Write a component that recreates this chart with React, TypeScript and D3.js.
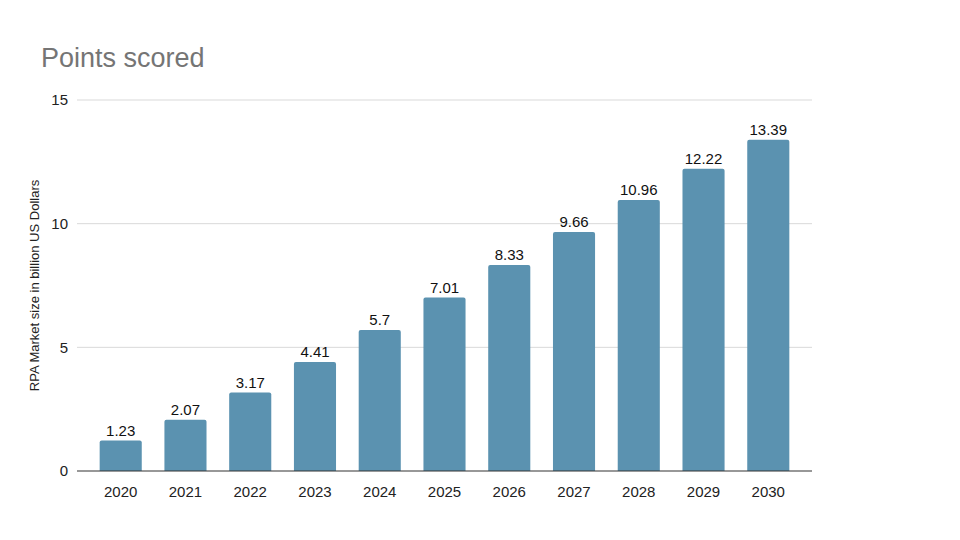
import React from "react";
import * as d3 from "d3";

const years = ["2020","2021","2022","2023","2024","2025","2026","2027","2028","2029","2030"];
const values = [1.23, 2.07, 3.17, 4.41, 5.7, 7.01, 8.33, 9.66, 10.96, 12.22, 13.39];
const valueLabels = ["1.23","2.07","3.17","4.41","5.7","7.01","8.33","9.66","10.96","12.22","13.39"];
const yTicks = [0, 5, 10, 15];
const title = "Points scored";
const yTitle = "RPA Market size in billion US Dollars";

const W = 960, H = 540;
const left = 77, right = 812, top = 100, bottom = 471;
const font = "'Liberation Sans', Arial, sans-serif";

export default function App() {
  const x = d3.scaleBand<string>().domain(years).range([left, right]).padding(0.35);
  const y = d3.scaleLinear().domain([0, 15]).range([bottom, top]);
  const r = 2;
  const barPath = (x0: number, w: number, y0: number, y1: number) => {
    const p = d3.path();
    p.moveTo(x0, y1);
    p.lineTo(x0, y0 + r);
    p.arcTo(x0, y0, x0 + r, y0, r);
    p.lineTo(x0 + w - r, y0);
    p.arcTo(x0 + w, y0, x0 + w, y0 + r, r);
    p.lineTo(x0 + w, y1);
    p.closePath();
    return p.toString();
  };
  return (
    <svg width={W} height={H} style={{ position: "absolute", left: 0, top: 0, background: "#fff" }} fontFamily={font}>
      <rect width={W} height={H} fill="#fff" />
      <text x={41} y={67} fontSize={27} fill="#757575">{title}</text>
      {yTicks.map((t) => (
        <g key={t}>
          {t !== 0 && <line x1={left} x2={right} y1={y(t)} y2={y(t)} stroke="#d9d9d9" strokeWidth={1} />}
          <text x={68} y={y(t)} dy="0.36em" textAnchor="end" fontSize={15} fill="#222">{t}</text>
        </g>
      ))}
      <text transform={`translate(39,${(top + bottom) / 2}) rotate(-90)`} textAnchor="middle" fontSize={13} fill="#222">{yTitle}</text>
      {years.map((yr, i) => {
        const bx = x(yr)!;
        const bw = x.bandwidth();
        return (
          <g key={yr}>
            <path d={barPath(bx, bw, y(values[i]), y(0))} fill="#5b92b0" />
            <text x={bx + bw / 2} y={y(values[i]) - 5} textAnchor="middle" fontSize={15} fill="#111">{valueLabels[i]}</text>
            <text x={bx + bw / 2} y={497} textAnchor="middle" fontSize={15} fill="#222">{yr}</text>
          </g>
        );
      })}
      <line x1={left} x2={right} y1={y(0)} y2={y(0)} stroke="#333" strokeWidth={1.2} />
    </svg>
  );
}
